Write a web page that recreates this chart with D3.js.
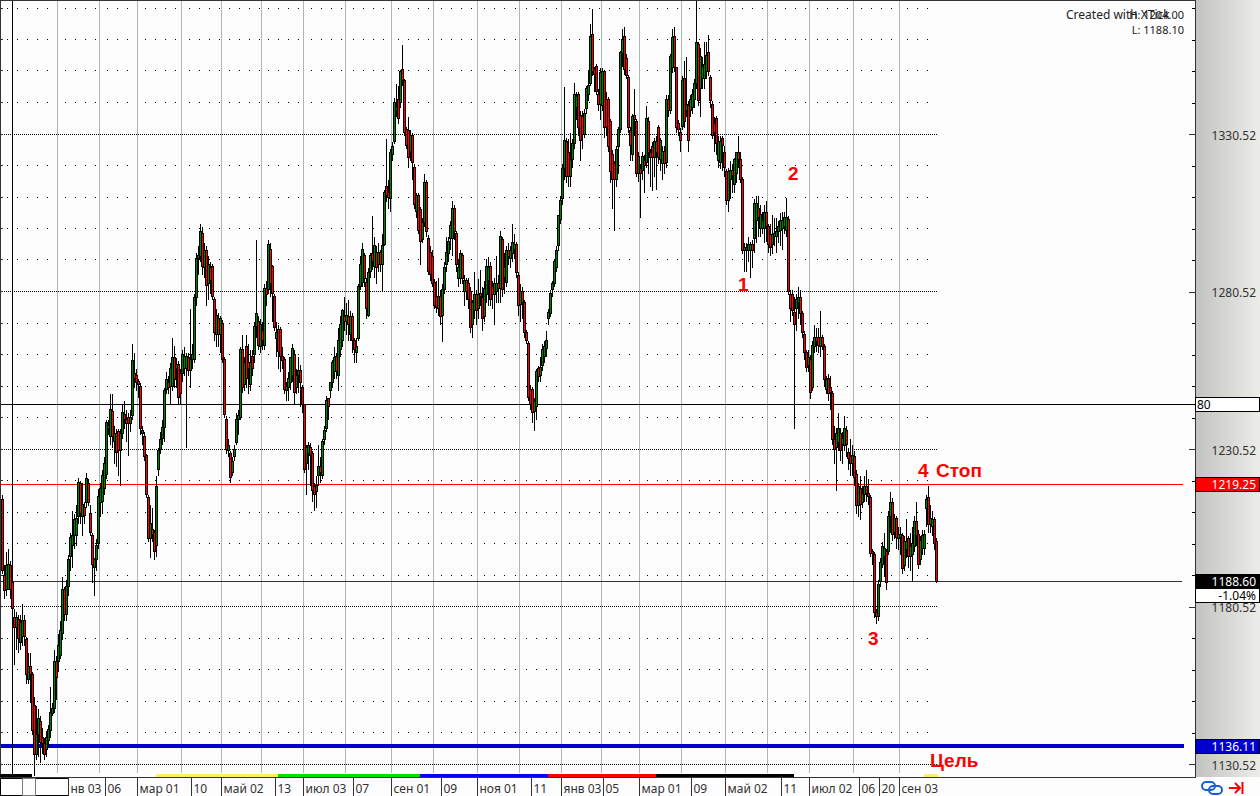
<!DOCTYPE html>
<html>
<head>
<meta charset="utf-8">
<script src="https://d3js.org/d3.v7.min.js"></script>
<style>
html, body { margin: 0; padding: 0; background: #fdfdfd; overflow: hidden; }
text { font-family: "Noto Sans", sans-serif; font-size: 12px; }
</style>
</head>
<body>
<div id="chart"></div>
<script>
// daily bars, ten per row
const opens = [
1214.5,1190.5,1186,1186,1193.5,1188,1177,1174,1176.5,1169,
1171,1176,1170,1157.5,1161.5,1159,1149,1133.5,1140,1144,
1139,1137,1135,1138,1141,1146.5,1148,1163,1163,1165,
1172,1186,1178,1187,1196.5,1200,1203,1203,1209,1219.5,
1209,1212,1213.5,1219.5,1210,1203,1193,1195.5,1200.5,1213.5,
1214,1218,1222.5,1238,1234.5,1242.5,1233,1235.5,1236,1230,
1235.5,1241.5,1240,1240.5,1238.5,1241,1254.5,1254,1252,1250.5,
1235.5,1234.5,1228.5,1215,1202,1205,1204,1200,1224,1230.5,
1234,1237.5,1249.5,1251.5,1250.5,1250.5,1259.5,1256,1257.5,1254.5,
1254.5,1256,1256,1259.5,1255.5,1259,1259,1278.5,1291,1291.5,
1299,1288,1293.5,1283,1288,1288.5,1278,1267,1272,1267,
1270.5,1259,1240,1230,1229,1223,1228,1232.5,1240,1240.5,
1262,1251,1263,1258,1251,1260,1260.5,1269.5,1271,1263,
1268,1263.5,1281.5,1281,1294,1288.5,1279,1265.5,1268.5,1268.5,
1260,1259,1249,1250,1251.5,1254,1260.5,1250,1254,1255.5,
1250,1244.5,1226,1229,1231,1229,1218.5,1217,1222,1225,
1222,1233.5,1237,1246.5,1249,1251.5,1255,1260,1254,1262,
1265,1272.5,1271,1272.5,1267,1272.5,1265,1261,1265.5,1282,
1283.5,1292,1283.5,1273,1287,1292.5,1288.5,1293,1289,1293,
1289,1295.5,1314,1312,1310,1324,1328,1338,1341.5,1340.5,
1351,1347.5,1332,1331.5,1325,1330,1320,1306,1311,1306.5,
1297,1302.5,1315,1297.5,1293,1291.5,1283.5,1279,1275,1279,
1273,1281,1289,1292.5,1297.5,1297.5,1307,1299,1284.5,1284.5,
1292,1280.5,1284,1283,1280.5,1270,1274.5,1279.5,1275,1280,
1278.5,1272.5,1279.5,1284,1288.5,1282,1279.5,1280.5,1283,1281.5,
1297,1285,1283.5,1293.5,1291,1292.5,1294,1295.5,1285.5,1276.5,
1280.5,1277,1267.5,1264,1249.5,1249.5,1242.5,1244,1256,1254,
1257,1260,1262.5,1272,1273.5,1281,1283,1288,1295,1303.5,
1310,1319.5,1328,1324.5,1317,1322.5,1327.5,1339,1343,1336.5,
1336,1330.5,1338.5,1343,1346.5,1362,1351,1352,1343,1340,
1339.5,1350.5,1341.5,1341.5,1334.5,1324,1321,1316,1326.5,1332,
1356,1361.5,1354.5,1348.5,1331.5,1324,1336.5,1334.5,1318,1319.5,
1319,1322,1321.5,1334.5,1324.5,1326.5,1323,1328,1332.5,1322.5,
1321,1325,1321.5,1341.5,1338,1351.5,1361.5,1351.5,1334,1331,
1333,1348,1338,1339.5,1338,1339,1341.5,1346.5,1359,1345,
1348,1348,1350.5,1356.5,1348.5,1340,1334,1335.5,1322,1321.5,
1329,1324.5,1318.5,1309.5,1316,1319,1314.5,1318,1324.5,1322.5,
1316,1293.5,1294,1293.5,1293.5,1295.5,1297.5,1303,1307,1300.5,
1300.5,1300.5,1305.5,1301,1298.5,1295.5,1298,1298,1299.5,1300,
1300.5,1301,1300,1303.5,1279.5,1279.5,1274,1275,1277,1278.5,
1273.5,1267,1261,1257,1259,1250,1263,1266,1266,1263,
1266,1263,1249.5,1253,1250,1248,1233.5,1231,1232.5,1235.5,
1232,1231.5,1236.5,1229.5,1228,1226,1228,1222.5,1212.5,1218,
1213.5,1216,1218.5,1216.5,1215,1198,1197,1178.5,1177.5,1188.5,
1194,1196.5,1198,1198,1209,1213.5,1204,1208.5,1202,1202.5,
1203,1193.5,1198.5,1202,1196.5,1197,1199.5,1207.5,1203.5,1195.5,
1199,1199,1211.5,1215,1206.5,1206,1208,1201
];
const closes = [
1192,1185.5,1193.5,1194,1186,1180,1174,1177,1170.5,1175.5,
1176,1171,1159,1161.5,1159,1141,1133.5,1140,1145,1137.5,
1137,1133.5,1139,1141.5,1147,1148,1163,1158,1168,1173,
1186,1178,1187,1195.5,1202.5,1203,1208,1208.5,1220,1210,
1213,1209.5,1221,1213.5,1204,1194,1195.5,1200,1215.5,1218,
1222,1226,1239,1237,1243,1234.5,1235.5,1229.5,1230,1235.5,
1242,1240,1238.5,1238.5,1240.5,1258.5,1253,1251.5,1251,1237,
1236.5,1228,1216,1202,1207,1203.5,1198,1218.5,1230,1233.5,
1237.5,1249,1252.5,1250,1256,1259.5,1252.5,1257.5,1247,1248,
1260.5,1260,1260,1255.5,1259,1260.5,1278.5,1291,1292,1299.5,
1288.5,1293.5,1282.5,1289,1284,1279,1267.5,1273,1267,1272,
1259,1241.5,1230.5,1231.5,1221.5,1226.5,1230.5,1240,1241,1262,
1250,1258,1253,1256,1258,1256,1269.5,1273.5,1263.5,1270,
1265,1281.5,1279.5,1295.5,1283,1280,1269,1267.5,1261.5,1260,
1258.5,1249.5,1250.5,1253,1259.5,1262.5,1248.5,1254,1255.5,1251.5,
1244.5,1224,1231,1231.5,1228.5,1217.5,1216,1219,1225,1223,
1233,1236.5,1246,1244,1251.5,1258,1259.5,1255,1265,1270,
1274.5,1271,1273,1270,1272.5,1265,1262,1263,1282,1289,
1294,1284.5,1275,1286.5,1292,1290,1295,1288,1293,1289,
1295,1312,1311,1310.5,1324.5,1326.5,1340.5,1339,1335.5,1350.5,
1347.5,1331,1327,1323,1330,1321.5,1308,1311,1300,1296.5,
1302.5,1315,1299.5,1287,1286,1283,1276,1275.5,1279,1272.5,
1281,1288,1293,1296.5,1301.5,1307,1299.5,1289,1288,1292.5,
1284.5,1284,1280.5,1278,1269,1277,1279.5,1274.5,1279.5,1279,
1272,1281.5,1288.5,1288,1278,1279.5,1283,1283,1281.5,1298,
1281,1288,1293.5,1291.5,1293.5,1296,1295.5,1286.5,1276,1280.5,
1277,1267.5,1265,1247,1244.5,1242,1245.5,1255,1253.5,1256.5,
1262,1263,1265,1274,1280,1283,1290,1293.5,1304.5,1309.5,
1319.5,1328.5,1317,1317,1322,1327.5,1343,1342.5,1332.5,1328.5,
1330.5,1337,1345,1346,1361.5,1350.5,1349.5,1344,1340,1350,
1350.5,1332.5,1332.5,1326.5,1318.5,1316,1316,1325.5,1332,1356.5,
1360.5,1351,1349,1332.5,1327,1336,1335,1318,1323.5,1318,
1323.5,1320.5,1335.5,1324.5,1323,1323,1328,1324.5,1323,1328.5,
1325,1321,1341.5,1338,1355,1361,1351.5,1332.5,1332,1328.5,
1347.5,1334.5,1340,1328.5,1341.5,1343,1346.5,1359.5,1341,1355,
1352,1352.5,1355.5,1350.5,1341,1330,1331,1327.5,1328,1328,
1327,1320,1309.5,1318.5,1319,1317.5,1322.5,1324.5,1322.5,1316,
1293.5,1294.5,1294.5,1295.5,1295.5,1293.5,1308.5,1308.5,1304,1305,
1303,1305.5,1301,1295.5,1294.5,1298.5,1299,1299.5,1301,1303,
1303,1304,1304,1280.5,1275,1274.5,1270,1278,1278.5,1273.5,
1267.5,1261,1256.5,1259.5,1248.5,1263.5,1266,1264.5,1263.5,1266,
1263,1252.5,1252.5,1248,1248.5,1233.5,1230.5,1235.5,1237,1230,
1234,1237,1232,1227.5,1226,1228.5,1221.5,1212.5,1218.5,1213,
1216.5,1218.5,1216.5,1215.5,1197.5,1197.5,1178.5,1177.5,1187.5,1194.5,
1199.5,1199,1188,1209,1213.5,1203.5,1208.5,1202.5,1203.5,1203.5,
1192.5,1201,1201,1196.5,1199.5,1200.5,1207.5,1203,1194,1201.5,
1203,1203.5,1214.5,1206.5,1208.5,1208,1200.5,1188.6
];
const highs = [
1216,1194,1198,1199,1195,1190,1180,1179,1178,1178,
1181.5,1178,1171,1166,1166,1160,1152,1149,1148,1146,
1142,1139,1141,1143,1155,1150,1167,1165,1172,1176,
1190,1187,1189,1197,1204,1211,1210,1213,1221.5,1220.5,
1220,1214,1223,1221,1213,1204,1196,1202,1218,1220,
1224,1228,1240,1240,1248,1248,1238,1237,1237,1237,
1245,1246,1243,1242,1243,1264,1261,1256,1253,1251.5,
1238,1236,1229,1216,1213,1212,1205,1222,1231,1236,
1240,1250,1255,1254,1258,1266,1263.5,1259.5,1258.5,1256,
1262,1263,1261,1261,1275,1264,1280,1293,1295,1302,
1301,1296,1295,1292,1290,1289.5,1279,1275,1274,1273,
1271.5,1260,1241,1234,1230,1228,1232,1242,1243,1263,
1267,1260,1267,1264,1262,1262,1271,1297,1273,1272,
1271,1283,1284,1297,1296,1289,1280,1271,1270,1269.5,
1263,1260,1252,1255,1260,1264,1262,1256,1260,1257.5,
1251,1245,1232,1233,1232.5,1230,1220,1222,1232,1228,
1234,1238,1247.5,1247,1252,1259,1263,1261,1269,1273,
1275,1279,1277,1278,1274.5,1274,1266,1266,1283,1292,
1296,1293,1285,1288,1293,1304.5,1298,1295,1296,1294,
1299,1313,1329,1316,1326,1328,1342,1346.5,1346,1351,
1359,1348,1333,1336,1332,1331,1321,1312,1312,1307.5,
1304,1318,1316,1298.5,1295,1294,1284.5,1284,1285,1281,
1283,1290,1298,1298,1303,1309.5,1308,1300,1291,1294,
1293,1286,1285,1285,1282,1278,1287,1281,1284.5,1287.5,
1282,1284,1291,1291.5,1290,1284,1285,1292,1286,1300,
1298,1293,1295,1296,1295,1302,1299,1296.5,1287,1283,
1282,1278,1268.5,1265,1251,1250.5,1247,1256,1257,1260,
1264,1265,1268,1275,1281,1284,1291,1295,1305,1311,
1321,1345.5,1329.5,1329,1331,1329,1347,1344,1344,1338,
1338,1338.5,1346,1351,1365.5,1370.5,1352,1353,1345,1351.5,
1351.5,1351,1344,1342.5,1335.5,1325.5,1322,1327,1333,1357,
1364,1364.5,1356,1349.5,1333,1337,1345,1335.5,1325,1321,
1325,1324,1339.5,1336,1326,1328,1329.5,1330,1333.5,1329.5,
1327,1327,1343,1343,1356,1364,1364.5,1352,1335,1332.5,
1349,1354,1355,1341,1343,1345,1348,1373,1360,1358,
1355,1360,1360,1362,1349.5,1341,1336,1336.5,1330,1330,
1330,1327,1319.5,1320,1322,1321,1323,1325,1330,1325,
1317,1296,1296,1298,1296.5,1297,1310,1311,1311,1308,
1306,1308,1309.5,1302,1302,1305,1304,1304,1303,1305.5,
1306,1306,1310.5,1304.5,1281,1281,1279,1280,1282,1281,
1274.5,1268,1262,1262,1260.5,1265,1270,1269,1269,1274.5,
1267,1264,1254,1254.5,1254,1249,1238,1237.5,1242,1237.5,
1236,1241,1238,1231,1234,1232,1230,1224,1220,1222,
1219,1222,1224,1221,1216,1199,1198,1180,1189,1196,
1201,1204,1199,1211,1217,1215,1210,1209.5,1206,1206,
1204,1203,1208.5,1203,1204,1206,1209.5,1214,1205,1203,
1205,1205,1216,1219,1213,1211,1209,1202.5
];
const lows = [
1191,1183,1184,1187,1183,1175,1162,1167,1166,1167,
1168,1168,1156,1156,1150,1140,1127,1132,1133,1131,
1134,1132,1133,1136,1139,1146,1147,1151,1160,1164,
1170,1176,1176,1184,1192,1193,1199,1200,1207,1207,
1203,1207,1212,1212.5,1203,1188,1184,1192,1199,1209,
1210,1216,1221,1235,1232,1231,1226,1225,1222,1219,
1234,1237,1233,1228.5,1236,1240,1250,1249,1247,1235,
1232,1227,1215,1201,1196,1201,1195.5,1196.5,1222,1229,
1232,1233,1248,1248,1245,1249,1250,1250,1245,1245,
1252,1254,1231,1254,1250,1256,1258,1276,1286,1290,
1286,1285,1276,1278,1280,1278,1265,1263,1263,1261,
1258,1240.5,1229,1228,1220,1222,1227,1232,1235,1240,
1248.5,1249,1250,1248,1249,1254,1258,1266,1262,1261,
1262,1262,1276,1280,1279,1271,1268,1260,1256,1255,
1256,1248,1246,1246,1249.5,1252,1245,1248,1248.5,1244,
1242,1223,1216,1224,1219,1214,1211,1212,1219,1220,
1221,1232,1236,1240,1247,1250,1253,1253,1249,1260,
1263,1268,1267,1265,1265,1261,1258,1258,1265,1281,
1282,1282,1272,1272.5,1285,1287.5,1285,1283,1287,1287,
1280.5,1295,1309,1307,1306,1322,1327.5,1336,1334,1339,
1346,1330,1326,1320,1322,1316,1307,1304,1299,1289,
1296,1301,1298,1286,1284,1282,1275,1274,1273,1270,
1264.5,1280,1287,1290,1294,1292,1297,1287,1282,1283,
1283,1276,1278,1275,1267.5,1266,1272,1270,1272,1276,
1268,1271,1277,1276,1276,1275,1270,1277,1277,1277,
1279,1280,1282,1289,1288,1290,1291,1285,1273,1271,
1272,1266,1264,1246,1243,1239,1236.5,1240,1252,1252,
1255.5,1258,1260,1270,1272.5,1279,1282,1287,1293.5,1302,
1308,1316,1315,1314,1314,1320,1326,1335,1330,1322,
1326,1329.5,1337,1341,1346,1349,1344,1343,1338,1335,
1338,1329.5,1330,1325,1315,1307,1300,1314,1318,1331,
1352,1349.5,1348,1331,1322,1322,1330,1317,1315.5,1304,
1316,1312,1320,1318,1314,1312.5,1317,1313,1321,1319,
1316,1318,1320,1336,1337,1350,1350.5,1331,1330,1325,
1332,1332.5,1336,1325,1336,1337,1339,1345,1339.5,1336,
1345,1345,1348,1349,1339,1329,1325,1324,1320,1319.5,
1319,1317,1308,1306,1310,1312,1312,1315,1320,1315,
1292.5,1287,1287,1290,1285,1288,1293,1296,1298,1298,
1299,1296,1296.5,1293,1292,1292.5,1295,1293,1296,1295,
1294,1299,1298,1279.5,1271,1273,1237,1268,1272,1270,
1266,1259,1255,1255,1246.5,1249,1261,1261.5,1261,1260,
1262,1250.5,1248,1246,1243,1232,1226,1217.5,1230,1227,
1226,1230,1228,1224,1222,1222,1219,1210,1209,1208,
1212,1214,1214,1213,1196.5,1194,1177,1175,1176,1187,
1193,1190,1186,1197,1204,1201.5,1202,1199,1198.5,1197,
1191,1192,1196,1193,1192,1188.5,1198,1200,1192.5,1194,
1197,1197,1206,1204,1204,1203,1198.5,1188.1
];

const priceLabels = [1330.52, 1280.52, 1230.52, 1180.52, 1130.52];
const levelBlack = 1244.6;   // the "80" line
const levelStop = 1219.25;
const levelLast = 1188.60;
const levelTarget = 1136.11;

// month lines and axis separators, in bars (x.5 = between two bars)
const monthLines = [27.5,48.5,67.5,89.5,109.5,129.5,150.5,171.5,194.5,215.5,237.5,258.5,279.5,299.5,318.5,339.5,361.5,382.5,403.5,425.5,448.5];
const axisLabels = ["нв 03","06","мар 01","10","май 02","13","июл 03","07","сен 01","09","ноя 01","11","янв 03","05","мар 01","09","май 02","11","июл 02","06","20","сен 03"];
const axisBars = [33,51.5,67.5,94.5,109.5,136.5,150.5,175.5,194.5,219.5,237.5,264.5,279.5,300.5,318.5,344.5,361.5,389.5,403.5,428.5,438.5,448.5];

// coloured strip over the time axis
const stripColors = ["#000000","#ffee66","#00e000","#0000ff","#ff0000","#000000","#ffee66"];
const stripFrom = [-1.5,77,138,209,273,327,461];
const stripTo = [15,138,209,273,327,396,468];

const width = 1260, height = 796;
const plotRight = 1195, plotBottom = 777;

const x = d3.scaleLinear().domain([0, opens.length - 1]).range([2.5, 936.5]);
const y = d3.scaleLinear().domain([1330.52, 1130.52]).range([134, 764]);
const py = v => Math.floor(y(v)) + 0.5;

const svg = d3.select("#chart").append("svg")
    .attr("width", width)
    .attr("height", height)
    .style("display", "block");

const defs = svg.append("defs");
const grad = defs.append("linearGradient").attr("id", "panel");
grad.append("stop").attr("offset", "0%").attr("stop-color", "#c2c2c0");
grad.append("stop").attr("offset", "100%").attr("stop-color", "#ecece8");

svg.append("rect").attr("width", width).attr("height", height).attr("fill", "#fdfdfd");
svg.append("rect").attr("x", plotRight).attr("y", 0).attr("width", width - plotRight).attr("height", plotBottom)
    .attr("fill", "url(#panel)");

const crisp = svg.append("g").attr("shape-rendering", "crispEdges");

// grid dots, restarted after every month line
const rows = d3.range(1130.52, 1375, 10);
const dotRows = rows.filter(p => !priceLabels.includes(+p.toFixed(2)) && +p.toFixed(2) % 50 !== 0.52);
const sections = [x(-1.25)].concat(monthLines.map(m => x(m)), [930]);
const dotXs = [];
sections.slice(0, -1).forEach((s, k) => {
    d3.range(s + 7.5, sections[k + 1], 10).forEach(v => dotXs.push(v));
});
dotRows.forEach(p => {
    crisp.append("g").selectAll("rect").data(dotXs).enter().append("rect")
        .attr("x", d => Math.floor(d)).attr("y", Math.floor(y(p)))
        .attr("width", 1).attr("height", 1).attr("fill", "#000");
});

// dense dotted rows at the labelled prices
crisp.selectAll(".major").data(priceLabels).enter().append("line")
    .attr("x1", 0).attr("x2", 937)
    .attr("y1", d => py(d)).attr("y2", d => py(d))
    .attr("stroke", "#000").attr("stroke-dasharray", "1,1");

// month lines
crisp.selectAll(".month").data(monthLines).enter().append("line")
    .attr("x1", d => x(d)).attr("x2", d => x(d))
    .attr("y1", 0).attr("y2", 773)
    .attr("stroke", "#a9b9b4");

// level lines
crisp.append("line").attr("x1", 0).attr("x2", plotRight).attr("y1", py(levelBlack)).attr("y2", py(levelBlack)).attr("stroke", "#000");
crisp.append("line").attr("x1", 0).attr("x2", 1183).attr("y1", py(levelStop)).attr("y2", py(levelStop)).attr("stroke", "#ff0000");
crisp.append("line").attr("x1", 0).attr("x2", 1182).attr("y1", py(levelLast)).attr("y2", py(levelLast)).attr("stroke", "#333");
crisp.append("rect").attr("x", 0).attr("y", Math.round(y(levelTarget)) - 2).attr("width", 1184).attr("height", 4).attr("fill", "#0000cc");

// black cursor line
crisp.append("line").attr("x1", 12.5).attr("x2", 12.5).attr("y1", 0).attr("y2", 778).attr("stroke", "#000");

// candles, wick first then body, left to right so later ones overlap
const candle = crisp.selectAll(".candle").data(d3.range(opens.length)).enter().append("g");
candle.append("line")
    .attr("x1", i => x(i)).attr("x2", i => x(i))
    .attr("y1", i => py(highs[i])).attr("y2", i => py(lows[i]))
    .attr("stroke", "#000");
candle.append("rect")
    .attr("x", i => x(i) - 1)
    .attr("y", i => py(Math.max(opens[i], closes[i])))
    .attr("width", 2)
    .attr("height", i => Math.max(1, py(Math.min(opens[i], closes[i])) - py(Math.max(opens[i], closes[i]))))
    .attr("fill", i => closes[i] < opens[i] ? "#ff0000" : "#008000")
    .attr("stroke", "#000");

// frame
crisp.append("line").attr("x1", 0.5).attr("x2", 0.5).attr("y1", 0).attr("y2", plotBottom).attr("stroke", "#333");
crisp.append("line").attr("x1", 0).attr("x2", 1196).attr("y1", 0.5).attr("y2", 0.5).attr("stroke", "#333");
crisp.append("line").attr("x1", 1195.5).attr("x2", 1195.5).attr("y1", 0).attr("y2", plotBottom).attr("stroke", "#333");
crisp.selectAll(".lefttick").data(rows).enter().append("line")
    .attr("x1", 0).attr("x2", 3).attr("y1", d => py(d)).attr("y2", d => py(d)).attr("stroke", "#333");

// strip over the axis
crisp.selectAll(".strip").data(stripColors).enter().append("rect")
    .attr("x", (d, k) => x(stripFrom[k]) - 1)
    .attr("y", 774)
    .attr("width", (d, k) => x(stripTo[k]) - x(stripFrom[k]))
    .attr("height", 4)
    .attr("fill", d => d);
crisp.append("line").attr("x1", 0).attr("x2", 1196).attr("y1", plotBottom + 0.5).attr("y2", plotBottom + 0.5).attr("stroke", "#333");

// price axis
const minorAxis = d3.axisRight(y).tickValues(rows).tickSizeInner(-3).tickSizeOuter(0).tickFormat("");
const minorG = svg.append("g").attr("transform", `translate(${plotRight},0)`).attr("shape-rendering", "crispEdges").call(minorAxis);
minorG.select(".domain").remove();
const priceAxis = d3.axisRight(y).tickValues(priceLabels).tickSizeInner(-6).tickSizeOuter(0).tickFormat(d3.format(".2f"));
const priceG = svg.append("g").attr("transform", `translate(${plotRight},0)`).call(priceAxis);
priceG.select(".domain").remove();
priceG.selectAll("line").attr("stroke", "#333").attr("shape-rendering", "crispEdges");
priceG.selectAll("text")
    .attr("x", 61).attr("dy", "0.42em").attr("text-anchor", "end")
    .style("font-family", '"Noto Sans", sans-serif').style("font-size", "12px")
    .attr("fill", "#333");

// price boxes
function priceBox(value, text, fill, color, h) {
    const top = Math.floor(y(value)) - 7;
    svg.append("rect").attr("x", 1195.5).attr("y", top + 0.5).attr("width", 64).attr("height", h || 14)
        .attr("fill", fill).attr("stroke", "#000").attr("shape-rendering", "crispEdges");
    svg.append("text").attr("x", 1256).attr("y", top + 11.5).attr("text-anchor", "end")
        .attr("fill", color).text(text);
}
priceBox(levelBlack, "", "#ffffff", "#000");
svg.append("text").attr("x", 1197).attr("y", Math.floor(y(levelBlack)) + 4.5).attr("fill", "#000").text("80");
priceBox(levelStop, "1219.25", "#ff0000", "#ffffff");
priceBox(levelLast, "1188.60", "#000000", "#ffffff");
svg.append("rect").attr("x", 1195.5).attr("y", 588.5).attr("width", 64).attr("height", 14)
    .attr("fill", "#ffffff").attr("stroke", "#000").attr("shape-rendering", "crispEdges");
svg.append("text").attr("x", 1256).attr("y", 600).attr("text-anchor", "end").attr("fill", "#000").text("-1.04%");
priceBox(levelTarget, "1136.11", "#0000cc", "#ffffff");

// time axis
crisp.append("rect").attr("x", 0.5).attr("y", 778.5).attr("width", 68).attr("height", 17).attr("fill", "#fff").attr("stroke", "#000");
crisp.append("rect").attr("x", 22.5).attr("y", 778.5).attr("width", 13).attr("height", 17).attr("fill", "#fdfdfd").attr("stroke", "#777");
svg.append("g").attr("shape-rendering", "crispEdges").selectAll("line").data(axisBars).enter().append("line")
    .attr("x1", d => x(d)).attr("x2", d => x(d)).attr("y1", 778).attr("y2", 796).attr("stroke", "#333");
svg.append("g").selectAll("text").data(axisLabels).enter().append("text")
    .attr("x", (d, k) => x(axisBars[k]) + 2)
    .attr("y", 793)
    .attr("fill", "#333")
    .text(d => d);

// red notes
const notes = svg.append("g").attr("fill", "#ff0000");
function note(px, pyy, t) {
    notes.append("text").attr("x", px).attr("y", pyy)
        .style("font-family", '"Liberation Sans", sans-serif')
        .style("font-size", "19px").style("font-weight", "bold").text(t);
}
note(738, 291, "1");
note(788, 180, "2");
note(868, 645, "3");
note(918, 477, "4");
note(936, 477, "Стоп");
note(930, 767, "Цель");

// top right texts
svg.append("text").attr("x", 1066).attr("y", 19).attr("fill", "#222").text("Created with XTick");
svg.append("text").attr("x", 1184).attr("y", 19).attr("text-anchor", "end").attr("fill", "#222").style("font-size", "11px").text("H: 1204.00");
svg.append("text").attr("x", 1184).attr("y", 34).attr("text-anchor", "end").attr("fill", "#222").style("font-size", "11px").text("L: 1188.10");

// link and scroll icons in the corner
const icons = svg.append("g").attr("fill", "none");
icons.append("rect").attr("x", 1202).attr("y", 782).attr("width", 13).attr("height", 8).attr("rx", 4).attr("stroke", "#1a5fd0").attr("stroke-width", 2);
icons.append("rect").attr("x", 1209).attr("y", 786).attr("width", 13).attr("height", 8).attr("rx", 4).attr("stroke", "#1a5fd0").attr("stroke-width", 2);
icons.append("path").attr("d", "M1229 788H1240M1235 783L1240 788L1235 793").attr("stroke", "#ff0000").attr("stroke-width", 2);
icons.append("path").attr("d", "M1242.5 782V794").attr("stroke", "#ff0000").attr("stroke-width", 2);
</script>
</body>
</html>
